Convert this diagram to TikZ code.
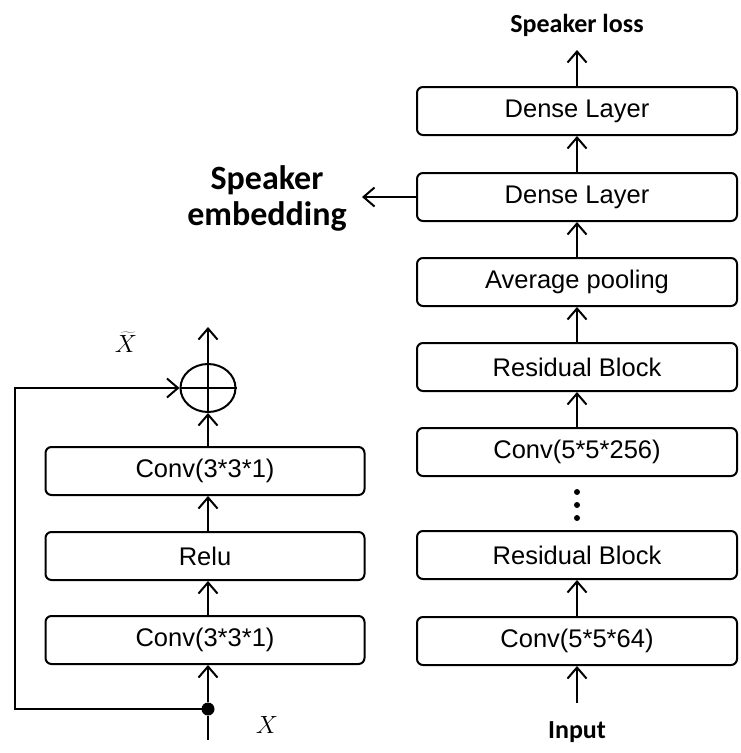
\documentclass[tikz,border=0pt]{standalone}
\usepackage{fontspec}
\setmainfont{Liberation Sans}
\newfontfamily\calib{Carlito}
\usetikzlibrary{arrows.meta,shapes.geometric}
\begin{document}
\begin{tikzpicture}[x=1pt,y=-1pt,
  box/.style={draw, rounded corners=6pt, line width=2pt, minimum height=48pt, inner sep=0pt, font=\fontsize{25.5}{30}\selectfont},
  rbox/.style={box, minimum width=320pt},
  lbox/.style={box, minimum width=319pt},
  conn/.style={line width=2pt, -{Straight Barb[length=11pt,width=19pt,line width=2pt]}},
  plain/.style={line width=2pt},
  lbl/.style={font=\calib\bfseries\fontsize{26}{30}\selectfont},
  biglbl/.style={font=\calib\bfseries\fontsize{34}{40}\selectfont, align=center},
  mathlbl/.style={font=\fontsize{29}{32}\selectfont},
]
\useasboundingbox (0,0) rectangle (741,753);

% right column
\node[rbox] (d2) at (577,111) {Dense Layer};
\node[rbox] (d1) at (577,197) {Dense Layer};
\node[rbox] (ap) at (577,282) {Average pooling};
\node[rbox] (rb2) at (577,367) {Residual Block};
\node[rbox] (c256) at (577,452) {Conv(5*5*256)};
\node[rbox] (rb1) at (577,555) {Residual Block};
\node[rbox] (c64) at (577,641) {Conv(5*5*64)};

\node[lbl] (loss) at (577,25) {Speaker loss};
\node[lbl] (input) at (577,732) {Input};
\node[biglbl] (emb) at (267,198) {Speaker\\[-4pt]embedding};

\coordinate (lossend) at (577,50);
\coordinate (inend) at (577,703);
\coordinate (embend) at (362,197);

\draw[conn] (inend) -- (c64.south);
\draw[conn] (c64.north) -- (rb1.south);
\draw[conn] (c256.north) -- (rb2.south);
\draw[conn] (rb2.north) -- (ap.south);
\draw[conn] (ap.north) -- (d1.south);
\draw[conn] (d1.north) -- (d2.south);
\draw[conn] (d2.north) -- (lossend);
\draw[conn] (d1.west) -- (embend);

\node[circle, fill, inner sep=0pt, minimum size=6pt] (dt1) at (577,492) {};
\node[circle, fill, inner sep=0pt, minimum size=6pt] (dt2) at (577,505) {};
\node[circle, fill, inner sep=0pt, minimum size=6pt] (dt3) at (577,518) {};

% left column (residual block detail)
\node[lbox] (lc2) at (205,471) {Conv(3*3*1)};
\node[lbox] (relu) at (205,556) {Relu};
\node[lbox] (lc1) at (205,640) {Conv(3*3*1)};
\node[ellipse, draw, line width=2pt, minimum width=55pt, minimum height=48pt, inner sep=0pt] (plus) at (208,388) {};
\draw[plain] (plus.north) -- (plus.south);
\draw[plain] (plus.west) -- (plus.east);

\node[circle, fill, inner sep=0pt, minimum size=13pt] (dot) at (208,709) {};
\coordinate (xin) at (208,740);
\coordinate (out) at (208,327);
\coordinate (fbl) at (15,709);
\coordinate (fbt) at (15,388);

\draw[plain] (xin) -- (dot);
\draw[conn] (dot) -- (lc1.south -| dot);
\draw[conn] (lc1.north -| dot) -- (relu.south -| dot);
\draw[conn] (relu.north -| dot) -- (lc2.south -| dot);
\draw[conn] (lc2.north -| dot) -- (plus.south);
\draw[conn] (plus.north) -- (out);
\draw[conn] (dot.center) -- (fbl) -- (fbt) -- (plus.west);

\node[mathlbl] (xt) at (126,342) {$\widetilde{X}$};
\node[mathlbl] (xl) at (267,725) {$X$};
\end{tikzpicture}
\end{document}
